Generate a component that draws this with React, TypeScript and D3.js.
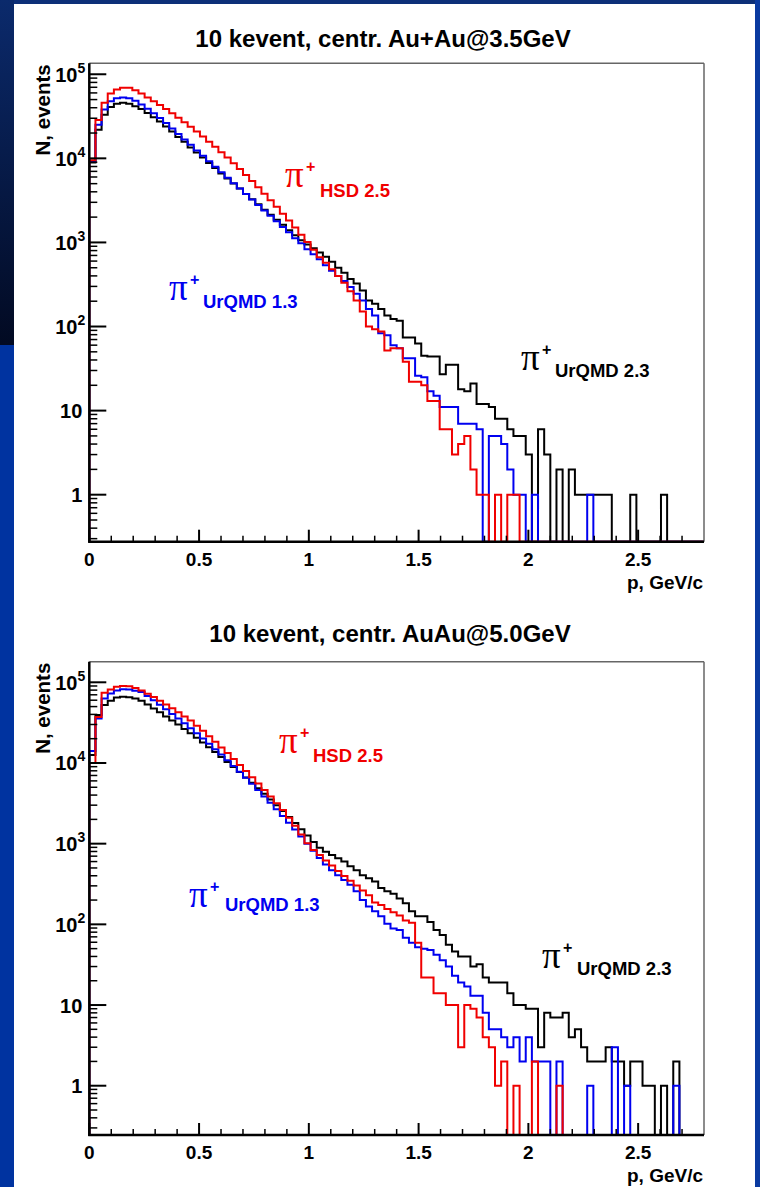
import React from 'react';
import * as d3 from 'd3';

// ---------------- data ----------------
const BIN_WIDTH = 0.028; // GeV/c, 100 bins on 0..2.8
const X_MAX = 2.8;

const X_TICK_VALUES = [0, 0.5, 1, 1.5, 2, 2.5];
const X_TICK_LABELS = ['0', '0.5', '1', '1.5', '2', '2.5'];
const Y_TICK_VALUES = [1, 10, 100, 1000, 10000, 100000];
const Y_TICK_BASE = ['1', '10', '10', '10', '10', '10'];
const Y_TICK_EXP = ['', '', '2', '3', '4', '5'];

const PANEL_TITLES = ['10 kevent, centr. Au+Au@3.5GeV', '10 kevent, centr. AuAu@5.0GeV'];
const X_TITLE = 'p, GeV/c';
const Y_TITLE = 'N, events';
const SERIES_NAMES = ['UrQMD 2.3', 'UrQMD 1.3', 'HSD 2.5'];
const PARTICLE = 'π';
const CHARGE = '+';

// 3.5 GeV panel
const TOP_URQMD23 = [
  8900, 21900, 33100, 40700, 44700, 45700, 44700, 41700, 38500, 34700,
  30900, 27500, 24000, 20900, 18000, 15700, 13500, 11700, 10200, 8810,
  7670, 6610, 5750, 5010, 4370, 3760, 3270, 2850, 2450, 2140,
  1860, 1620, 1400, 1220, 1060, 944, 851, 759, 676, 589,
  501, 437, 367, 324, 269, 204, 186, 162, 135, 123,
  117, 74, 74, 63, 45, 44, 44, 27, 35, 35,
  18, 17, 21, 12, 12, 11, 8, 8, 6, 5,
  5, 3, 0, 6, 3, 0, 2, 0, 2, 1,
  1, 1, 1, 1, 1, 0, 0, 0, 1, 0,
  0, 0, 0, 1, 0, 0, 0, 0, 0, 0,
];
const TOP_URQMD13 = [
  9100, 25100, 38000, 47900, 51900, 53100, 51900, 48400, 43600, 38900,
  34300, 30200, 26300, 22600, 19500, 16800, 14500, 12400, 10700, 9230,
  7940, 6840, 5890, 5070, 4370, 3760, 3240, 2790, 2400, 2070,
  1780, 1530, 1320, 1120, 977, 832, 724, 631, 537, 462,
  398, 347, 295, 245, 204, 162, 135, 83, 79, 60,
  55, 42, 42, 26, 25, 17, 15, 11, 11, 11,
  7, 7, 7, 6, 0, 5, 5, 4, 2, 1,
  1, 0, 1, 0, 0, 0, 0, 0, 0, 0,
  0, 1, 0, 0, 0, 0, 0, 0, 0, 0,
  0, 0, 0, 0, 0, 0, 0, 0, 0, 0,
];
const TOP_HSD25 = [
  9500, 28600, 45700, 58900, 66100, 69200, 69200, 64600, 58900, 53100,
  47900, 43000, 38500, 34300, 30400, 26900, 23700, 20800, 18200, 15800,
  13700, 11800, 10200, 8730, 7450, 6340, 5360, 4530, 3800, 3180,
  2650, 2200, 1820, 1500, 1230, 1010, 820, 665, 575, 479,
  398, 331, 263, 204, 151, 100, 93, 87, 52, 55,
  55, 38, 22, 22, 20, 13, 13, 6, 6, 3,
  4, 5, 2, 1, 1, 0, 1, 0, 1, 1,
  0, 0, 0, 0, 0, 0, 0, 0, 0, 0,
  0, 0, 0, 0, 0, 0, 0, 0, 0, 0,
  0, 0, 0, 0, 0, 0, 0, 0, 0, 0,
];

// 5.0 GeV panel
const BOT_URQMD23 = [
  12600, 39400, 52500, 58900, 64600, 66400, 65300, 63100, 58900, 53000,
  47400, 42500, 37800, 33700, 29900, 26400, 23300, 20500, 17900, 15700,
  13700, 11900, 10300, 8930, 7710, 6620, 5690, 4860, 4150, 3530,
  2990, 2540, 2140, 1800, 1510, 1260, 1050, 891, 794, 724,
  661, 603, 525, 468, 407, 372, 339, 282, 257, 240,
  209, 182, 145, 126, 126, 107, 85, 74, 56, 46,
  40, 40, 30, 32, 22, 19, 19, 19, 14, 10,
  10, 9, 9, 3, 8, 7, 7, 8, 4, 5,
  3, 2, 2, 2, 3, 2, 2, 1, 2, 2,
  1, 1, 0, 1, 0, 2, 0, 0, 0, 0,
];
const BOT_URQMD13 = [
  14100, 35500, 63100, 72400, 79400, 82000, 81300, 78500, 75900, 67500,
  59700, 52700, 46300, 40600, 35600, 31000, 26900, 23300, 20100, 17300,
  14800, 12700, 10800, 9160, 7760, 6550, 5510, 4610, 3850, 3210,
  2670, 2210, 1820, 1500, 1230, 1000, 817, 662, 550, 468,
  407, 355, 309, 257, 200, 166, 145, 126, 102, 89,
  85, 68, 59, 52, 50, 48, 42, 36, 30, 23,
  19, 17, 13, 13, 8, 5, 5, 4, 3, 4,
  2, 4, 2, 2, 2, 0, 2, 0, 0, 0,
  0, 1, 0, 0, 0, 3, 0, 1, 0, 0,
  0, 0, 0, 0, 0, 1, 0, 0, 0, 0,
];
const BOT_HSD25 = [
  10000, 37200, 74100, 81300, 88100, 90200, 89100, 85100, 79400, 72300,
  65500, 59000, 53100, 47600, 42600, 37800, 33600, 29000, 25000, 21400,
  18300, 15600, 13300, 11200, 9460, 7960, 6670, 5560, 4620, 3840,
  3170, 2610, 2090, 1670, 1300, 1010, 832, 724, 617, 537,
  457, 398, 347, 302, 263, 229, 186, 174, 155, 141,
  129, 112, 105, 59, 22, 22, 14, 14, 10, 10,
  3, 10, 9, 7, 4, 3, 1, 2, 0, 1,
  0, 0, 2, 0, 0, 0, 1, 0, 0, 0,
  0, 0, 0, 0, 0, 0, 0, 0, 0, 0,
  0, 0, 0, 0, 0, 0, 0, 0, 0, 0,
];

// ---------------- layout / style ----------------
const W = 760;
const H = 1187;
const SERIES_COLORS = ['#000000', '#0000f0', '#f00000'];
const SANS = '"Liberation Sans", Arial, Helvetica, sans-serif';
const SERIF = '"Liberation Serif", "Times New Roman", serif';

type Panel = {
  title: string;
  titleX: number;
  titleY: number;
  left: number;
  right: number;
  top: number;
  bottom: number;
  yMin: number;
  yMax: number;
  series: number[][];
  labels: { px: number; py: number; nx: number; ny: number }[];
};

const PANELS: Panel[] = [
  {
    title: PANEL_TITLES[0], titleX: 383, titleY: 47,
    left: 89.3, right: 704, top: 63.3, bottom: 541.7,
    yMin: 0.276, yMax: 1.35e5,
    series: [TOP_URQMD23, TOP_URQMD13, TOP_HSD25],
    labels: [
      { px: 521, py: 370, nx: 555, ny: 377 },
      { px: 169, py: 300, nx: 203, ny: 308 },
      { px: 285, py: 187, nx: 320, ny: 197 },
    ],
  },
  {
    title: PANEL_TITLES[1], titleX: 390, titleY: 642,
    left: 89.3, right: 704, top: 661.7, bottom: 1135,
    yMin: 0.245, yMax: 1.8e5,
    series: [BOT_URQMD23, BOT_URQMD13, BOT_HSD25],
    labels: [
      { px: 542, py: 968, nx: 577, ny: 975 },
      { px: 189, py: 907, nx: 225, ny: 911 },
      { px: 279, py: 753, nx: 313, ny: 762 },
    ],
  },
];

function histPath(values: number[], x: (v: number) => number, y: (v: number) => number, yMin: number) {
  const pts: [number, number][] = [[x(0), y(yMin)]];
  values.forEach((v, i) => pts.push([x(i * BIN_WIDTH), y(v > 0 ? v : yMin)]));
  const last = values[values.length - 1];
  pts.push([x(values.length * BIN_WIDTH), y(last > 0 ? last : yMin)]);
  pts.push([x(values.length * BIN_WIDTH), y(yMin)]);
  return d3.line().curve(d3.curveStepAfter)(pts) || '';
}

function PanelView({ p, idx }: { p: Panel; idx: number }) {
  const x = d3.scaleLinear().domain([0, X_MAX]).range([p.left, p.right]);
  const y = d3.scaleLog().domain([p.yMin, p.yMax]).range([p.bottom, p.top]).clamp(true);

  const minorY: number[] = [];
  for (let e = -1; e <= 5; e++) {
    const d = Math.pow(10, e);
    for (let k = 2; k <= 9; k++) {
      const v = k * d;
      if (v > p.yMin && v < p.yMax) minorY.push(v);
    }
  }
  const minorX = d3.range(0, 28).map((i) => i * 0.1).filter((v) => Math.round(v * 10) % 5 !== 0);
  const clipId = `clip${idx}`;

  return (
    <g>
      <text x={p.titleX} y={p.titleY} textAnchor="middle" fontFamily={SANS} fontWeight="bold" fontSize={24} fill="#000">
        {p.title}
      </text>
      <defs>
        <clipPath id={clipId}>
          <rect x={p.left} y={p.top} width={p.right - p.left} height={p.bottom - p.top} />
        </clipPath>
      </defs>
      <g clipPath={`url(#${clipId})`}>
        {p.series.map((s, i) => (
          <path key={i} d={histPath(s, x, y, p.yMin)} fill="none" stroke={SERIES_COLORS[i]} strokeWidth={2} strokeLinejoin="miter" />
        ))}
      </g>
      {/* frame */}
      <line x1={p.left} x2={p.right} y1={p.top} y2={p.top} stroke="#666" strokeWidth={1.5} />
      <line x1={p.right} x2={p.right} y1={p.top} y2={p.bottom} stroke="#666" strokeWidth={1.5} />
      <line x1={p.left} x2={p.left} y1={p.top} y2={p.bottom + 1} stroke="#000" strokeWidth={2.5} />
      <line x1={p.left - 1} x2={p.right} y1={p.bottom} y2={p.bottom} stroke="#000" strokeWidth={2.5} />
      {/* y ticks */}
      {Y_TICK_VALUES.map((v) => (
        <line key={'ym' + v} x1={p.left} x2={p.left + 17} y1={y(v)} y2={y(v)} stroke="#000" strokeWidth={2} />
      ))}
      {minorY.map((v) => (
        <line key={'yn' + v} x1={p.left} x2={p.left + 8} y1={y(v)} y2={y(v)} stroke="#000" strokeWidth={1.5} />
      ))}
      {/* x ticks */}
      {X_TICK_VALUES.map((v) => (
        <line key={'xm' + v} x1={x(v)} x2={x(v)} y1={p.bottom} y2={p.bottom - 12} stroke="#000" strokeWidth={2} />
      ))}
      {minorX.map((v) => (
        <line key={'xn' + v} x1={x(v)} x2={x(v)} y1={p.bottom} y2={p.bottom - 6} stroke="#000" strokeWidth={1.5} />
      ))}
      {/* y tick labels */}
      {Y_TICK_VALUES.map((v, i) => (
        <text key={'yl' + v} x={Y_TICK_EXP[i] ? p.left - 4 : p.left - 7} y={y(v) + 7.5} textAnchor="end"
          fontFamily={SANS} fontWeight="bold" fontSize={20} fill="#000">
          <tspan>{Y_TICK_BASE[i]}</tspan>
          {Y_TICK_EXP[i] ? <tspan dy={-9} fontSize={14}>{Y_TICK_EXP[i]}</tspan> : null}
        </text>
      ))}
      {/* x tick labels */}
      {X_TICK_VALUES.map((v, i) => (
        <text key={'xl' + v} x={x(v)} y={p.bottom + 24} textAnchor="middle"
          fontFamily={SANS} fontWeight="bold" fontSize={19} fill="#000">
          {X_TICK_LABELS[i]}
        </text>
      ))}
      <text x={p.right - 1} y={p.bottom + 47} textAnchor="end" fontFamily={SANS} fontWeight="bold" fontSize={19} fill="#000">
        {X_TITLE}
      </text>
      <text transform={`translate(50,${p.top + 1}) rotate(-90)`} textAnchor="end" fontFamily={SANS} fontWeight="bold" fontSize={20.5} fill="#000">
        {Y_TITLE}
      </text>
      {/* series labels */}
      {p.labels.map((l, i) => (
        <g key={'lab' + i} fill={SERIES_COLORS[i]}>
          <text x={l.px} y={l.py} fontFamily={SERIF} fontSize={37}>{PARTICLE}</text>
          <text x={l.px + 21} y={l.py - 15} fontFamily={SANS} fontWeight="bold" fontSize={16}>{CHARGE}</text>
          <text x={l.nx} y={l.ny} fontFamily={SANS} fontWeight="bold" fontSize={18.5}>{SERIES_NAMES[i]}</text>
        </g>
      ))}
    </g>
  );
}

export default function App() {
  return (
    <div style={{ position: 'absolute', left: 0, top: 0, width: W, height: H }}>
      <svg width={W} height={H} viewBox={`0 0 ${W} ${H}`} style={{ display: 'block' }}>
        <defs>
          <linearGradient id="navy" x1="0" y1="0" x2="0" y2="1">
            <stop offset="0" stopColor="#0b2a6c" />
            <stop offset="1" stopColor="#020a22" />
          </linearGradient>
        </defs>
        <rect x={0} y={0} width={W} height={H} fill="#ffffff" />
        <rect x={0} y={0} width={W} height={4} fill="#0d2f78" />
        <rect x={0} y={0} width={14} height={345} fill="url(#navy)" />
        <rect x={0} y={345} width={14} height={H - 345} fill="#0033a0" />
        <rect x={755} y={0} width={5} height={H} fill="#0a3aa0" />
        {PANELS.map((p, i) => (
          <PanelView key={i} p={p} idx={i} />
        ))}
      </svg>
    </div>
  );
}
